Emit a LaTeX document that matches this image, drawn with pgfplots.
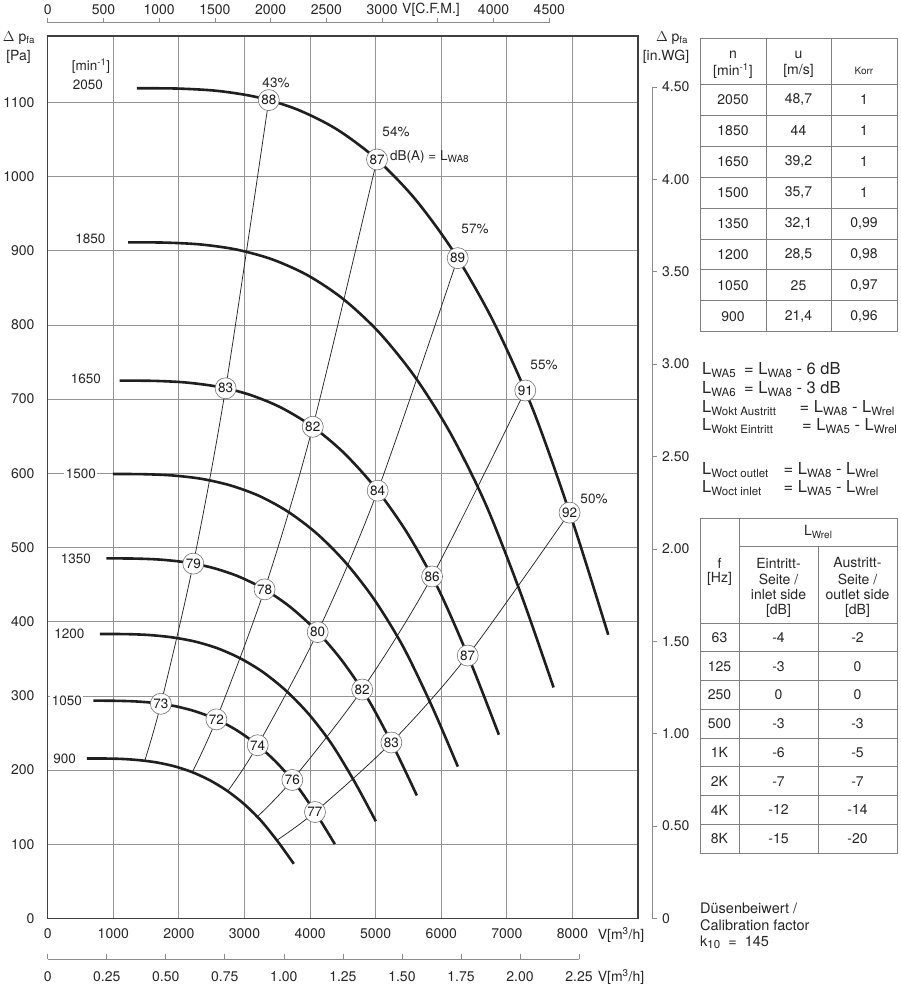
\documentclass[border=0pt]{standalone}
\usepackage{pgfplots}
\pgfplotsset{compat=1.18}
\usepackage{fontspec}
\setmainfont{TeX Gyre Heros}
\newcommand{\sub}[1]{\raisebox{-0.3ex}{\fontsize{11.5}{12}\selectfont #1}}
\newcommand{\ssub}[1]{\raisebox{-0.3ex}{\fontsize{10}{11}\selectfont #1}}
\newcommand{\fs}{\fontsize{13.5}{16}\selectfont}
\newcommand{\ft}{\fontsize{14}{16}\selectfont}
\newcommand{\ff}{\fontsize{16.5}{19}\selectfont}
\begin{document}
\fs
\begin{tikzpicture}[x=1pt,y=1pt]
\useasboundingbox (0,0) rectangle (900,991);
\begin{axis}[
  at={(47.7pt,72.5pt)}, anchor=south west,
  scale only axis, width=590.4pt, height=882.5pt,
  xmin=0, xmax=9000, ymin=0, ymax=1189.4,
  xtick={0,1000,...,8000}, ytick={0,100,...,1100},
  grid=major, major grid style={black!42, line width=0.8pt},
  major tick length=0pt,
  axis line style={black!75, line width=1.5pt},
  tick label style={font=\ft, text=black!85},
  /pgf/number format/assume math mode=true,
  /pgf/number format/1000 sep={},
  xticklabel style={yshift=-5.5pt},
  yticklabel style={xshift=-8.5pt},
  clip=false,
]
% efficiency lines (43%, 54%, 57%, 55%, 50%)
\pgfplotsset{eff/.style={smooth, line width=0.75pt, black!85}}
\addplot[eff] coordinates {(1479.5,212.6) (1726.1,289.4) (2219.3,478.3) (2712.4,714.6) (3370,1103)};
\addplot[eff] coordinates {(2203.9,197.2) (2571.2,268.4) (3305.9,443.6) (4040.5,662.7) (5020,1023)};
\addplot[eff] coordinates {(2743.9,171.5) (3201.3,233.5) (4115.9,386.0) (5030.5,576.6) (6250,890)};
\addplot[eff] coordinates {(3196.1,137.2) (3728.8,186.7) (4794.2,308.6) (5859.5,461.0) (7280,711.6)};
\addplot[eff] coordinates {(3492.4,105.4) (4074.6,143.5) (5238.7,237.2) (6402.8,354.4) (7955,547)};
% speed curves
\pgfplotsset{spd/.style={smooth, tension=0.5, line width=2.6pt, black!88}}
% 2050
\addplot[spd] coordinates {(1360,1119) (2000,1118.5) (2600,1115.3) (3200,1106.8) (3800,1090.5) (4400,1064.0) (5000,1024.5) (5600,969.7) (6200,896.9) (6800,803.6) (7400,685.3) (8000,535.5) (8545,382.4)};
% 1850
\addplot[spd] coordinates {(1227.3,911.3) (1804.9,910.9) (2346.3,908.3) (2887.8,901.4) (3429.3,888.1) (3970.7,866.5) (4512.2,834.4) (5053.7,789.7) (5595.1,730.4) (6136.6,654.5) (6678.1,558.1) (7219.5,436.1) (7711.4,311.4)};
% 1650
\addplot[spd] coordinates {(1094.6,724.9) (1609.8,724.6) (2092.7,722.5) (2575.6,717.0) (3058.5,706.5) (3541.5,689.3) (4024.4,663.7) (4507.3,628.2) (4990.3,581.0) (5473.2,520.6) (5956.1,444.0) (6439.0,346.9) (6877.7,247.7)};
% 1500
\addplot[spd] coordinates {(995.1,599.1) (1463.4,598.8) (1902.4,597.1) (2341.5,592.6) (2780.5,583.8) (3219.5,569.7) (3658.6,548.5) (4097.6,519.2) (4536.6,480.2) (4975.6,430.2) (5414.7,366.9) (5853.7,286.7) (6252.5,204.7)};
% 1350
\addplot[spd] coordinates {(895.6,485.3) (1317.1,485.1) (1712.2,483.7) (2107.3,480.0) (2502.5,472.9) (2897.6,461.4) (3292.7,444.3) (3687.8,420.5) (4082.9,389.0) (4478.1,348.5) (4873.2,297.2) (5268.3,232.2) (5627.2,165.8)};
% 1200
\addplot[spd] coordinates {(796.1,383.4) (1170.7,383.3) (1522.0,382.2) (1873.2,379.2) (2224.4,373.7) (2575.6,364.6) (2926.9,351.0) (3278.1,332.3) (3629.3,307.3) (3980.5,275.4) (4331.7,234.8) (4683.0,183.5) (5001.9,131.0)};
% 1050
\addplot[spd] coordinates {(696.6,293.6) (1024.4,293.4) (1331.7,292.6) (1639.0,290.4) (1946.4,286.1) (2253.7,279.1) (2561.0,268.8) (2868.3,254.4) (3175.6,235.3) (3483.0,210.8) (3790.3,179.8) (4097.6,140.5) (4376.8,100.3)};
% 900
\addplot[spd] coordinates {(597.1,215.7) (878.0,215.6) (1141.5,215.0) (1404.9,213.3) (1668.3,210.2) (1931.7,205.1) (2195.1,197.5) (2458.5,186.9) (2721.9,172.9) (2985.3,154.9) (3248.7,132.1) (3512.2,103.2) (3751.4,73.7)};
% circles
\addplot[only marks, mark=*, mark size=10.5pt,
  mark options={fill=white, draw=black!55, line width=0.6pt},
  nodes near coords, point meta=explicit symbolic,
  every node near coord/.append style={anchor=center, font=\fs, inner sep=0pt, text=black!90}]
  coordinates {
  (3370,1103)[88] (5020,1023)[87] (6250,890)[89] (7280,711.6)[91] (7955,547)[92]
  (2712.4,714.6)[83] (4040.5,662.7)[82] (5030.5,576.6)[84] (5859.5,461.0)[86] (6402.8,354.4)[87]
  (2219.3,478.3)[79] (3305.9,443.6)[78] (4115.9,386.0)[80] (4794.2,308.6)[82] (5238.7,237.2)[83]
  (1726.1,289.4)[73] (2571.2,268.4)[72] (3201.3,233.5)[74] (3728.8,186.7)[76] (4074.6,143.5)[77]};
\end{axis}
\begin{scope}[yshift=991pt, y=-1pt, x=1pt, every node/.style={text=black!85, font=\fs}]
% left axis title
\node[font=\ft] at (19,38) {$\Delta$ p\textsubscript{fa}};
\node[font=\ft] at (18.5,57) {[Pa]};
\node at (91,66) {[min\textsuperscript{-1}]};
% speed labels
\node[anchor=east] at (107.5,84.5) {2050};
\node[anchor=east, fill=white, inner sep=1.5pt] at (107,239) {1850};
\node[anchor=east, fill=white, inner sep=1.5pt] at (102.5,378.5) {1650};
\node[anchor=east, fill=white, inner sep=1.5pt] at (97.5,474) {1500};
\node[anchor=east, fill=white, inner sep=1.5pt] at (92.5,559) {1350};
\node[anchor=east, fill=white, inner sep=1.5pt] at (86,634) {1200};
\node[anchor=east, fill=white, inner sep=1.5pt] at (83.5,701) {1050};
\node[anchor=east, fill=white, inner sep=1.5pt] at (77.5,759) {900};
% percentages
\node at (276,83) {43\%};
\node at (396,132) {54\%};
\node at (475,228.5) {57\%};
\node at (544,365) {55\%};
\node at (594,499) {50\%};
\node[anchor=west, inner sep=0pt] at (390,157) {dB(A) = L\ssub{WA8}};
% bottom labels
\node[font=\ft] at (621,935) {V[m\textsuperscript{3}/h]};
\draw[black!45, line width=0.7pt] (47.7,959) -- (579.1,959);
\foreach \v/\t in {0/0,0.25/0.25,0.5/0.50,0.75/0.75,1/1.00,1.25/1.25,1.5/1.50,1.75/1.75,2/2.00,2.25/2.25}{
  \draw[black!45, line width=0.7pt] ({47.7+\v*236.16},959) -- ({47.7+\v*236.16},954);
  \node[font=\ft] at ({47.7+\v*236.16},977) {\t};
}
\node[font=\ft] at (621,977) {V[m\textsuperscript{3}/h]};
% top CFM axis
\draw[black!45, line width=0.7pt] (47.7,22.7) -- (549.3,22.7);
\foreach \c in {0,500,...,4500}{
  \draw[black!45, line width=0.7pt] ({47.7+\c*0.11146},22.7) -- ({47.7+\c*0.11146},17.7);
}
\foreach \c in {0,500,1000,1500,2000,2500,3000,4000,4500}{
  \node[font=\ft] at ({47.7+\c*0.11146},9.5) {\c};
}
\node[font=\ft] at (431,9.5) {V[C.F.M.]};
% right in.WG axis
\node[font=\ft] at (672,38) {$\Delta$ p\textsubscript{fa}};
\node[font=\ft] at (666,57) {[in.WG]};
\draw[black!45, line width=0.7pt] (652,86.9) -- (652,918.5);
\foreach \w/\t in {0/0,0.5/0.50,1/1.00,1.5/1.50,2/2.00,2.5/2.50,3/3.00,3.5/3.50,4/4.00,4.5/4.50}{
  \draw[black!45, line width=0.7pt] (652,{918.5-\w*184.8}) -- (656.5,{918.5-\w*184.8});
  \node[font=\ft, anchor=west, inner sep=0pt] at (662,{918.5-\w*184.8}) {\t};
}
% table 1
\draw[black!50, line width=0.7pt] (700,38) rectangle (897,331.7);
\draw[black!50, line width=0.7pt] (766,38) -- (766,331.7) (831,38) -- (831,331.7);
\foreach \k in {0,...,7}{ \draw[black!50, line width=0.7pt] (700,{84.3+\k*30.92}) -- (897,{84.3+\k*30.92}); }
\node[font=\ft] at (733,54.5) {n};
\node[font=\ft] at (733,71) {[min\textsuperscript{-1}]};
\node[font=\ft] at (798.5,54.5) {u};
\node[font=\ft] at (798.5,71) {[m/s]};
\node[font=\fontsize{10}{11}\selectfont] at (864,71) {Korr};
\foreach \k/\n/\u/\c in {0/2050/{48,7}/1,1/1850/44/1,2/1650/{39,2}/1,3/1500/{35,7}/1,4/1350/{32,1}/{0,99},5/1200/{28,5}/{0,98},6/1050/25/{0,97},7/900/{21,4}/{0,96}}{
  \node[font=\ft] at (733,{100+\k*30.92}) {\n};
  \node[font=\ft] at (798.5,{100+\k*30.92}) {\u};
  \node[font=\ft] at (864,{100+\k*30.92}) {\c};
}
% formulas
\begin{scope}[every node/.style={text=black!85, font=\ff, anchor=base west, inner sep=0pt}]
\node at (702,374.5) {\makebox[42pt][l]{L\sub{WA5}}= L\sub{WA8} - 6 dB};
\node at (702,393.8) {\makebox[42pt][l]{L\sub{WA6}}= L\sub{WA8} - 3 dB};
\node at (702,412.7) {\makebox[97.5pt][l]{L\sub{Wokt Austritt}}= L\sub{WA8} - L\sub{Wrel}};
\node at (702,430.5) {\makebox[100pt][l]{L\sub{Wokt Eintritt}}= L\sub{WA5} - L\sub{Wrel}};
\node at (702,475) {\makebox[81.5pt][l]{L\sub{Woct outlet}}= L\sub{WA8} - L\sub{Wrel}};
\node at (702,493) {\makebox[81.5pt][l]{L\sub{Woct inlet}}= L\sub{WA5} - L\sub{Wrel}};
\end{scope}
% table 2
\draw[black!50, line width=0.7pt] (700,518) rectangle (897,853);
\draw[black!50, line width=0.7pt] (739,518) -- (739,853) (818,546) -- (818,853) (739,546) -- (897,546);
\foreach \k in {0,...,7}{ \draw[black!50, line width=0.7pt] (700,{623+\k*28.75}) -- (897,{623+\k*28.75}); }
\node[font=\ft] at (818,532) {L\ssub{Wrel}};
\node[font=\ft] at (719.5,563) {f};
\node[font=\ft] at (719.5,579) {[Hz]};
\node[font=\ft] at (778.5,563) {Eintritt-};
\node[font=\ft] at (778.5,579) {Seite /};
\node[font=\ft] at (778.5,595) {inlet side};
\node[font=\ft] at (778.5,611) {[dB]};
\node[font=\ft] at (857.5,563) {Austritt-};
\node[font=\ft] at (857.5,579) {Seite /};
\node[font=\ft] at (857.5,595) {outlet side};
\node[font=\ft] at (857.5,611) {[dB]};
\foreach \k/\f/\a/\b in {0/63/-4/-2,1/125/-3/0,2/250/0/0,3/500/-3/-3,4/1K/-6/-5,5/2K/-7/-7,6/4K/-12/-14,7/8K/-15/-20}{
  \node[font=\ft] at (719.5,{637.4+\k*28.75}) {\f};
  \node[font=\ft] at (778.5,{637.4+\k*28.75}) {\a};
  \node[font=\ft] at (857.5,{637.4+\k*28.75}) {\b};
}
% calibration
\begin{scope}[every node/.style={text=black!85, font=\fontsize{14.5}{17}\selectfont, anchor=west, inner sep=0pt}]
\node at (700,908) {Düsenbeiwert /};
\node at (700,925) {Calibration factor};
\node at (700,942) {k\sub{10} \ = \ 145};
\end{scope}
\end{scope}
\end{tikzpicture}
\end{document}
